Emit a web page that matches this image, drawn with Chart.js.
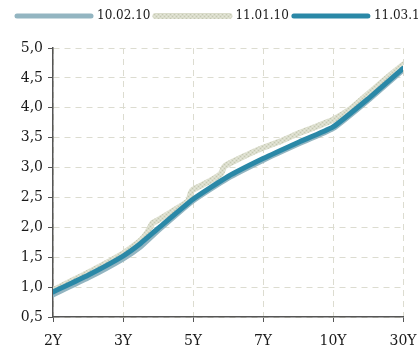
<!DOCTYPE html>
<html>
<head>
<meta charset="utf-8">
<script src="https://cdn.jsdelivr.net/npm/chart.js@4"></script>
<style>
  html, body { margin: 0; padding: 0; background: #fff; overflow: hidden; }
  #wrap { width: 460px; height: 345px; }
</style>
</head>
<body>
<div id="wrap"><canvas id="chart" width="460" height="345"></canvas></div>
<script>
// tenors on the x axis, curve points are placed in tenor steps (0 = 2Y ... 5 = 30Y)
const tenors = ['2Y', '3Y', '5Y', '7Y', '10Y', '30Y'];
const yTicks = [0.5, 1.0, 1.5, 2.0, 2.5, 3.0, 3.5, 4.0, 4.5, 5.0];

const steps = [0, 0.5, 1, 1.25, 1.5, 2, 2.5, 3, 3.5, 4, 4.5, 5];
const feb10 = [0.87, 1.15, 1.47, 1.67, 1.94, 2.44, 2.82, 3.12, 3.39, 3.65, 4.12, 4.63];
const mar10 = [0.92, 1.20, 1.52, 1.73, 1.98, 2.47, 2.85, 3.15, 3.42, 3.68, 4.15, 4.66];

const janSteps = [0, 0.5, 1, 1.25, 1.35, 1.42, 1.5, 1.75, 1.93, 1.97, 2, 2.25, 2.4, 2.45, 2.75, 3, 3.25, 3.5, 3.75, 4, 4.25, 4.5, 4.75, 5];
const jan10 = [0.95, 1.24, 1.56, 1.78, 1.92, 2.07, 2.12, 2.30, 2.44, 2.58, 2.63, 2.78, 2.90, 3.02, 3.20, 3.33, 3.44, 3.57, 3.68, 3.80, 3.98, 4.23, 4.48, 4.72];

const serif = '"DejaVu Serif", "Liberation Serif", serif';

// speckled beige stroke like the original
function speckle() {
    const c = document.createElement('canvas');
    c.width = 4; c.height = 4;
    const g = c.getContext('2d');
    g.fillStyle = '#dadccb';
    g.fillRect(0, 0, 4, 4);
    g.fillStyle = '#c4c8b2';
    g.fillRect(0, 0, 1, 1);
    g.fillRect(2, 2, 1, 1);
    g.fillStyle = '#e6e8db';
    g.fillRect(2, 0, 1, 1);
    g.fillRect(0, 2, 1, 1);
    return g.createPattern(c, 'repeat');
}

// extra room under the legend so the plot starts lower
const legendSpace = {
    id: 'legendSpace',
    beforeInit(chart) {
        const fit = chart.legend.fit;
        chart.legend.fit = function () {
            fit.call(this);
            this.height += 16;
        };
    }
};

const toPoints = (xs, ys) => ys.map((v, i) => ({ x: xs[i], y: v }));
const beige = speckle();

const ctx = document.getElementById('chart').getContext('2d');
new Chart(ctx, {
    type: 'line',
    data: {
        datasets: [{
            label: '10.02.10',
            data: toPoints(steps, feb10),
            borderColor: '#93b5c1',
            backgroundColor: '#93b5c1',
            borderWidth: 5,
            order: 2
        }, {
            label: '11.01.10',
            data: toPoints(janSteps, jan10),
            borderColor: beige,
            backgroundColor: beige,
            borderWidth: 6,
            order: 1
        }, {
            label: '11.03.10',
            data: toPoints(steps, mar10),
            borderColor: '#2a88a7',
            backgroundColor: '#2a88a7',
            borderWidth: 5,
            order: 0
        }]
    },
    plugins: [legendSpace],
    options: {
        responsive: false,
        animation: false,
        layout: { padding: { left: 12, top: 5, right: 0, bottom: 0 } },
        elements: {
            point: { radius: 0 },
            line: { tension: 0.15, borderCapStyle: 'round', borderJoinStyle: 'round', fill: false }
        },
        plugins: {
            legend: {
                align: 'start',
                labels: {
                    boxWidth: 74,
                    boxHeight: 0.1,
                    padding: 5,
                    color: '#1a1a1a',
                    font: { family: serif, size: 12 },
                    sort: (a, b) => a.datasetIndex - b.datasetIndex
                }
            },
            tooltip: { enabled: false }
        },
        scales: {
            x: {
                type: 'linear',
                min: 0,
                max: tenors.length - 1,
                afterBuildTicks: s => { s.ticks = tenors.map((t, i) => ({ value: i })); },
                afterFit: s => { s.height = 28; s.paddingRight = 460 - 403; },
                ticks: {
                    autoSkip: false,
                    maxRotation: 0,
                    padding: 11,
                    color: '#1a1a1a',
                    font: { family: serif, size: 14 },
                    callback: v => tenors[v]
                },
                grid: { color: '#dcdcd0', tickColor: '#555', tickLength: 5 },
                border: { color: '#555', width: 1.5, dash: [6, 5] }
            },
            y: {
                min: yTicks[0],
                max: yTicks[yTicks.length - 1],
                afterBuildTicks: s => { s.ticks = yTicks.map(v => ({ value: v })); },
                afterFit: s => { s.width = 41; },
                ticks: {
                    padding: 5,
                    color: '#1a1a1a',
                    font: { family: serif, size: 14 },
                    callback: v => v.toFixed(1).replace('.', ',')
                },
                grid: { color: '#dcdcd0', tickColor: '#555', tickLength: 5 },
                border: { color: '#555', width: 1.5, dash: [6, 5] }
            }
        }
    }
});
</script>
</body>
</html>
